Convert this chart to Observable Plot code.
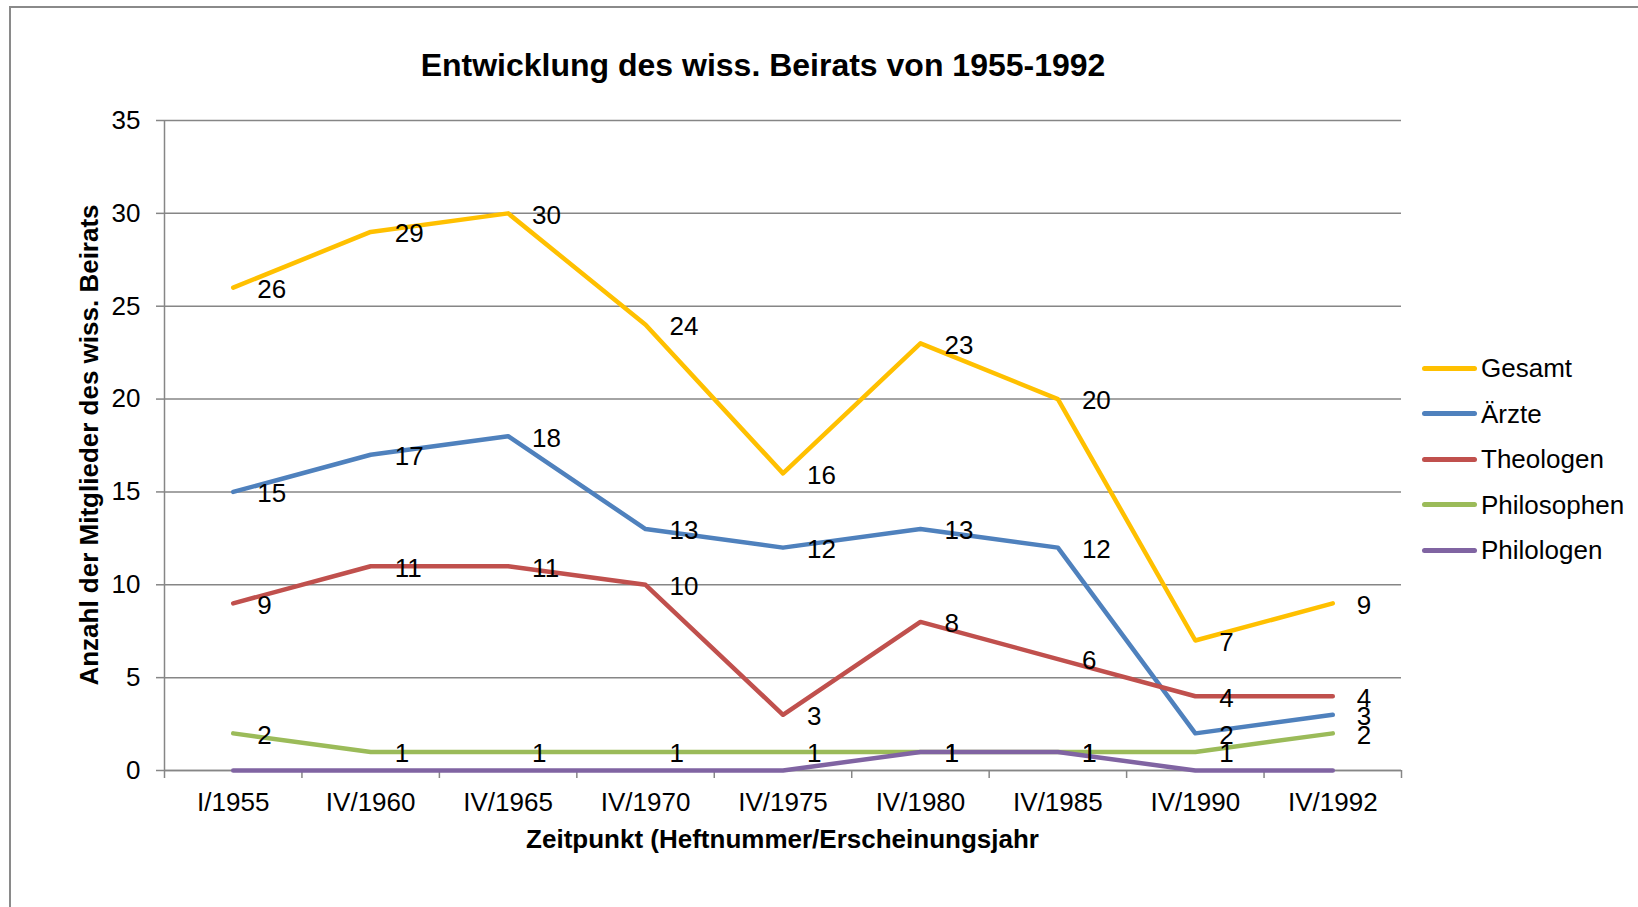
<!DOCTYPE html>
<html>
<head>
<meta charset="utf-8">
<script src="https://cdn.jsdelivr.net/npm/d3@7"></script>
<script src="https://cdn.jsdelivr.net/npm/@observablehq/plot@0.6"></script>
<style>
  html, body { margin: 0; padding: 0; background: #fff; }
  body { width: 1638px; height: 907px; position: relative; overflow: hidden; font-family: "Liberation Sans", Arial, sans-serif; color: #000; }
  #frame { position: absolute; left: 9px; top: 6px; width: 1700px; height: 1000px; border: 2px solid #8a8a8a; box-sizing: border-box; }
  #chart { position: absolute; left: 0; top: 0; }
  .title { position: absolute; left: 0; top: 49px; width: 1526px; text-align: center; font-weight: bold; font-size: 32px; line-height: 32px; white-space: nowrap; }
  .xtitle { position: absolute; left: 164px; width: 1237px; top: 826px; text-align: center; font-weight: bold; font-size: 26px; line-height: 26px; white-space: nowrap; }
  .ytitle { position: absolute; left: -211px; width: 600px; top: 432px; text-align: center; font-weight: bold; font-size: 26px; line-height: 26px; white-space: nowrap; transform: rotate(-90deg); }
  .legend { position: absolute; left: 1422px; top: 0; }
  .legend .row { position: absolute; left: 0; height: 26px; white-space: nowrap; }
  .legend .swatch { position: absolute; left: 0; top: 10.5px; width: 55px; height: 5px; border-radius: 3px; }
  .legend .label { position: absolute; left: 59px; top: 0; font-size: 26px; line-height: 26px; }
</style>
</head>
<body>
<div id="frame"></div>
<div id="chart"></div>
<div class="title">Entwicklung des wiss. Beirats von 1955-1992</div>
<div class="xtitle">Zeitpunkt (Heftnummer/Erscheinungsjahr</div>
<div class="ytitle">Anzahl der Mitglieder des wiss. Beirats</div>
<div class="legend" id="legend"></div>
<script>
const categories = ["I/1955", "IV/1960", "IV/1965", "IV/1970", "IV/1975", "IV/1980", "IV/1985", "IV/1990", "IV/1992"];
const gesamt      = [26, 29, 30, 24, 16, 23, 20, 7, 9];
const aerzte      = [15, 17, 18, 13, 12, 13, 12, 2, 3];
const theologen   = [9, 11, 11, 10, 3, 8, 6, 4, 4];
const philosophen = [2, 1, 1, 1, 1, 1, 1, 1, 2];
const philologen  = [0, 0, 0, 0, 0, 1, 1, 0, 0];
const seriesNames = ["Gesamt", "Ärzte", "Theologen", "Philosophen", "Philologen"];
const yTicks = [0, 5, 10, 15, 20, 25, 30, 35];

const seriesValues = [gesamt, aerzte, theologen, philosophen, philologen];
const seriesColors = ["#FFC000", "#4F81BD", "#C0504D", "#9BBB59", "#8064A2"];

const rows = [];
seriesNames.forEach((name, s) => {
  seriesValues[s].forEach((v, i) => rows.push({series: name, i, value: v}));
});

const grey = "#868686";
const chart = Plot.plot({
  width: 1638,
  height: 907,
  marginLeft: 164,
  marginRight: 237,
  marginTop: 120,
  marginBottom: 137,
  style: {fontFamily: "'Liberation Sans', Arial, sans-serif", background: "transparent", color: "#000"},
  x: {type: "linear", domain: [-0.5, categories.length - 0.5]},
  y: {domain: [0, 35]},
  color: {domain: seriesNames, range: seriesColors},
  marks: [
    Plot.gridY(yTicks, {stroke: grey, strokeOpacity: 1, strokeWidth: 1.5}),
    Plot.ruleX([-0.5], {stroke: grey, strokeWidth: 1.5}),
    Plot.ruleY([0], {stroke: grey, strokeWidth: 1.5}),
    Plot.axisY(yTicks, {tickSize: 8, tickPadding: 16, fontSize: 26, stroke: grey, strokeWidth: 1.5, fill: "#000", label: null, tickFormat: d => String(d)}),
    Plot.axisX(d3.range(-0.5, categories.length, 1), {tickSize: 8, stroke: grey, strokeWidth: 1.5, tickFormat: () => "", label: null}),
    Plot.axisX(d3.range(categories.length), {tickSize: 0, tickPadding: 22, fontSize: 26, fill: "#000", label: null, tickFormat: i => categories[i]}),
    Plot.line(rows, {x: "i", y: "value", z: "series", stroke: "series", strokeWidth: 4.5, strokeLinecap: "round", strokeLinejoin: "round"}),
    Plot.text(rows.filter(d => d.value !== 0), {x: "i", y: "value", text: d => String(d.value), dx: 24, dy: 2, textAnchor: "start", fontSize: 26, fill: "#000"})
  ]
});
document.getElementById("chart").appendChild(chart);

const legend = document.getElementById("legend");
seriesNames.forEach((name, s) => {
  const row = document.createElement("div");
  row.className = "row";
  row.style.top = (355 + s * 45.5) + "px";
  const sw = document.createElement("div");
  sw.className = "swatch";
  sw.style.background = seriesColors[s];
  const lb = document.createElement("div");
  lb.className = "label";
  lb.textContent = name;
  row.appendChild(sw);
  row.appendChild(lb);
  legend.appendChild(row);
});
</script>
</body>
</html>
